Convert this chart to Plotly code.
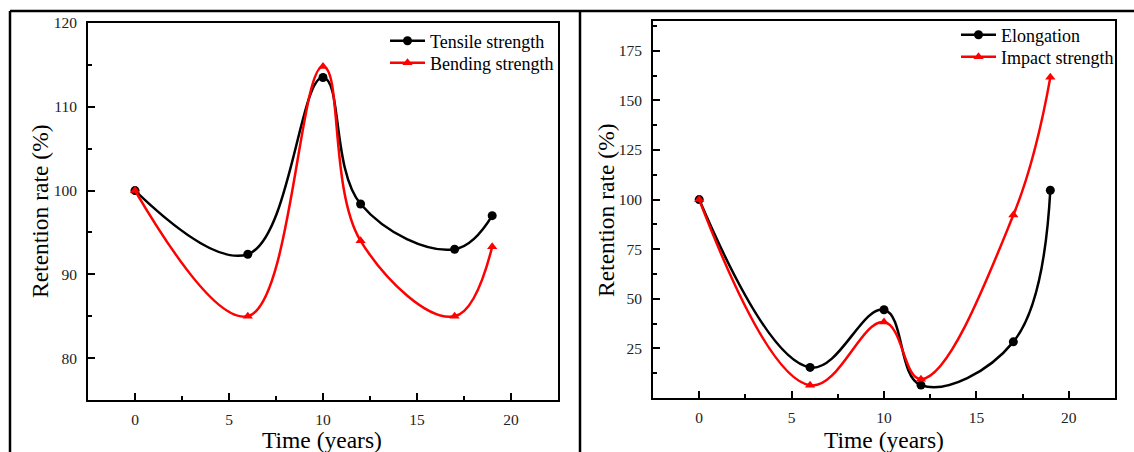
import plotly.graph_objects as go

# Ageing time (years)
years = [0, 6, 10, 12, 17, 19]

# Retention rates (%)
tensile = [100, 92.4, 113.5, 98.4, 93.0, 97.0]
bending = [100, 85.0, 114.8, 94.0, 85.0, 93.3]
elongation = [100, 15.4, 44.5, 6.5, 28.3, 104.7]
impact = [100, 6.4, 38.3, 9.5, 92.2, 161.6]

x_ticks = [0, 5, 10, 15, 20]
left_y_ticks = [80, 90, 100, 110, 120]
right_y_ticks = [25, 50, 75, 100, 125, 150, 175]

W, H = 1134, 452
FONT = "Liberation Serif"


def px_x(p):
    return p / W


def px_y(p):
    return 1 - p / H


fig = go.Figure()


def add_series(x, y, name, color, symbol, xa, ya, legend):
    fig.add_trace(go.Scatter(
        x=x, y=y, name=name, mode="lines+markers",
        line=dict(color=color, width=2.5, shape="spline", smoothing=1.15),
        marker=dict(color=color, symbol=symbol, size=9),
        xaxis=xa, yaxis=ya, legend=legend,
    ))


add_series(years, tensile, "Tensile strength", "black", "circle", "x", "y", "legend")
add_series(years, bending, "Bending strength", "#ff0000", "triangle-up", "x", "y", "legend2")
add_series(years, elongation, "Elongation", "black", "circle", "x2", "y2", "legend3")
add_series(years, impact, "Impact strength", "#ff0000", "triangle-up", "x2", "y2", "legend4")

axis_common = dict(
    showgrid=False, zeroline=False, showline=True, linecolor="black",
    linewidth=2, mirror=True, ticks="inside", ticklen=7, tickwidth=1.5,
    tickcolor="black", tickfont=dict(family=FONT, size=15.5, color="#222"),
    automargin=False,
)
x_minor = dict(ticks="inside", ticklen=4, tickcolor="black",
               tickwidth=1.5, dtick=2.5, tick0=0)


def legend_box(x_px, y_px):
    # one entry per box, centred on its row
    return dict(x=px_x(x_px), y=px_y(y_px), xanchor="left", yanchor="middle",
                bgcolor="rgba(0,0,0,0)", borderwidth=0,
                font=dict(family=FONT, size=18, color="black"),
                itemwidth=35)


fig.update_layout(
    template="none",
    width=W, height=H,
    margin=dict(l=0, r=0, t=0, b=0, pad=0),
    paper_bgcolor="white", plot_bgcolor="white",
    showlegend=True,
    xaxis=dict(domain=[px_x(88), px_x(558)], range=[-2.5, 22.5],
               tickvals=x_ticks, anchor="y", minor=x_minor,
               ticklabelstandoff=4, **axis_common),
    yaxis=dict(domain=[px_y(400), px_y(23)], range=[75, 120],
               tickvals=left_y_ticks, anchor="x",
               minor=dict(ticks="inside", ticklen=4, tickcolor="black",
                          tickwidth=1.5, dtick=5, tick0=0),
               ticklabelstandoff=6, **axis_common),
    xaxis2=dict(domain=[px_x(653), px_x(1115)], range=[-2.5, 22.5],
                tickvals=x_ticks, anchor="y2", minor=x_minor,
                ticklabelstandoff=4, **axis_common),
    yaxis2=dict(domain=[px_y(398), px_y(21)], range=[0, 190],
                tickvals=right_y_ticks, anchor="x2",
                minor=dict(ticks="inside", ticklen=4, tickcolor="black",
                           tickwidth=1.5, dtick=12.5, tick0=0),
                ticklabelstandoff=6, **axis_common),
    legend=legend_box(385, 41),
    legend2=legend_box(385, 63),
    legend3=legend_box(956, 35),
    legend4=legend_box(956, 57),
)

title_font = dict(family=FONT, size=23.5, color="black")
annotations = [
    dict(text="Time (years)", x=px_x(322), y=px_y(440), xref="paper", yref="paper",
         showarrow=False, font=title_font, xanchor="center", yanchor="middle"),
    dict(text="Retention rate (%)", x=px_x(40), y=px_y(211), xref="paper", yref="paper",
         showarrow=False, font=title_font, textangle=-90,
         xanchor="center", yanchor="middle"),
    dict(text="Time (years)", x=px_x(884), y=px_y(440), xref="paper", yref="paper",
         showarrow=False, font=title_font, xanchor="center", yanchor="middle"),
    dict(text="Retention rate (%)", x=px_x(606), y=px_y(210), xref="paper", yref="paper",
         showarrow=False, font=title_font, textangle=-90,
         xanchor="center", yanchor="middle"),
]
fig.update_layout(annotations=annotations)

# Outer panel frame
frame = dict(color="black", width=2.5)
fig.update_layout(shapes=[
    dict(type="line", xref="paper", yref="paper", x0=px_x(10), x1=px_x(10),
         y0=px_y(11), y1=0, line=frame),
    dict(type="line", xref="paper", yref="paper", x0=px_x(10), x1=1,
         y0=px_y(11), y1=px_y(11), line=frame),
    dict(type="line", xref="paper", yref="paper", x0=px_x(580), x1=px_x(580),
         y0=px_y(11), y1=0, line=frame),
])

fig.write_html("out.html")
